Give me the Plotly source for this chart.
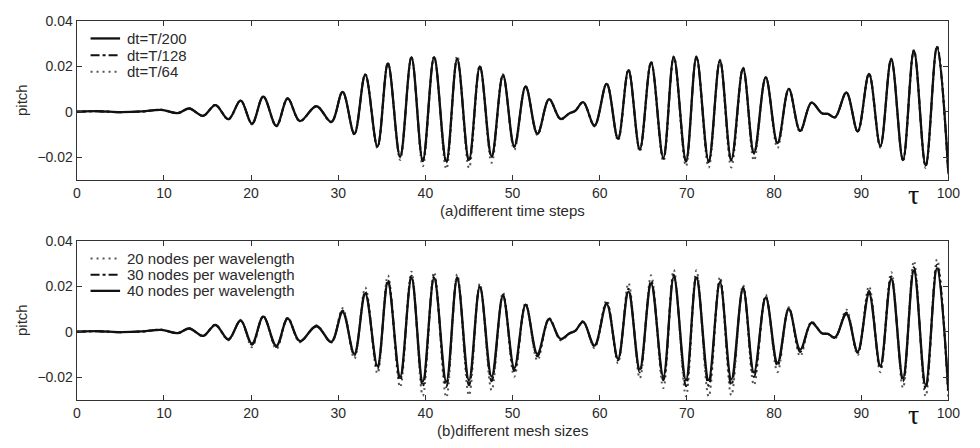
import plotly.graph_objects as go

# time instants of the extrema of pitch (tau)
tau = [0, 2.5, 5, 7.5, 9.7, 11.6, 12.9, 14.5, 15.9, 17.4, 18.8, 20.1, 21.4, 22.9,
       24.2, 25.6, 27.5, 29.2, 30.5, 31.85, 33.1, 34.5, 35.7, 37.1,
       38.4, 39.7, 41.0, 42.4, 43.65, 45.0, 46.25, 47.6, 48.9, 50.2,
       51.5, 52.85, 54.2, 55.5, 56.5, 57.2, 58.1, 59.4, 60.8, 62.1,
       63.3, 64.6, 65.9, 67.3, 68.5, 69.9, 71.1, 72.5, 73.8, 75.1,
       76.45, 77.7, 79.05, 80.4, 81.7, 83.0, 84.3, 85.5, 86.2, 87.0,
       88.3, 89.6, 90.9, 92.2, 93.45, 94.8, 96.05, 97.4, 98.7, 100]

# (a) different time steps
pitch_dt200 = [0, 0.0002, -0.0002, 0.0001, 0.0008, -0.0006, 0.0014, -0.0018, 0.0029, -0.0033, 0.0049, -0.0053, 0.0066, -0.0062,
               0.0058, -0.0041, 0.0024, -0.0045, 0.0087, -0.0097, 0.0163, -0.0153, 0.0212, -0.0197,
               0.0238, -0.0213, 0.0239, -0.0218, 0.0231, -0.0212, 0.0199, -0.0196, 0.0161, -0.0152,
               0.0111, -0.0097, 0.0055, -0.0032, -0.0008, 0.0004, 0.0042, -0.0061, 0.0122, -0.0118,
               0.0183, -0.0165, 0.0216, -0.0203, 0.024, -0.0215, 0.024, -0.0217, 0.0224, -0.021,
               0.0191, -0.0181, 0.0151, -0.0138, 0.01, -0.0084, 0.004, -0.0007, -0.001, -0.0025,
               0.0084, -0.0086, 0.0166, -0.0151, 0.0231, -0.0211, 0.0268, -0.0236, 0.0285, -0.0265]
pitch_dt128 = [0, 0.0002, -0.0002, 0.0001, 0.0008, -0.0006, 0.0014, -0.0018, 0.0029, -0.0033, 0.0049, -0.0053, 0.0066, -0.0062,
               0.0058, -0.0041, 0.0024, -0.0045, 0.0087, -0.0098, 0.0164, -0.0155, 0.0213, -0.0200,
               0.0239, -0.0218, 0.024, -0.0224, 0.0233, -0.0218, 0.02, -0.02, 0.0162, -0.0155,
               0.0111, -0.0098, 0.0055, -0.0032, -0.0008, 0.0004, 0.0042, -0.0062, 0.0123, -0.012,
               0.0184, -0.0168, 0.0217, -0.0207, 0.0241, -0.022, 0.0241, -0.0222, 0.0225, -0.0215,
               0.0192, -0.0185, 0.0152, -0.014, 0.01, -0.0085, 0.004, -0.0007, -0.001, -0.0025,
               0.0084, -0.0087, 0.0167, -0.0153, 0.0232, -0.0214, 0.0269, -0.024, 0.0286, -0.027]
pitch_dt64 = [0, 0.0002, -0.0002, 0.0001, 0.0008, -0.0006, 0.0014, -0.0019, 0.003, -0.0035, 0.005, -0.0056, 0.0067, -0.0066,
              0.0059, -0.0043, 0.0025, -0.0047, 0.0088, -0.0102, 0.0166, -0.016, 0.0216, -0.0212,
              0.0243, -0.024, 0.0245, -0.0252, 0.0246, -0.0248, 0.0204, -0.0225, 0.0165, -0.0168,
              0.0113, -0.0103, 0.0056, -0.0034, -0.0008, 0.0004, 0.0043, -0.0065, 0.0125, -0.0128,
              0.0187, -0.0175, 0.0220, -0.0218, 0.0244, -0.024, 0.0244, -0.0246, 0.0228, -0.0245,
              0.0194, -0.0215, 0.0154, -0.016, 0.0101, -0.009, 0.004, -0.0007, -0.001, -0.0026,
              0.0085, -0.009, 0.0168, -0.0158, 0.0234, -0.022, 0.0272, -0.0248, 0.029, -0.0285]

# (b) different mesh sizes
pitch_40nodes = [0, 0.0002, -0.0002, 0.0001, 0.0008, -0.0006, 0.0014, -0.0018, 0.0029, -0.0033, 0.0049, -0.0053, 0.0066, -0.0062,
                 0.0058, -0.0041, 0.0024, -0.0045, 0.0086, -0.0098, 0.0167, -0.0151, 0.0217, -0.0198,
                 0.0236, -0.022, 0.0237, -0.022, 0.0233, -0.0214, 0.0197, -0.0198, 0.0157, -0.016,
                 0.0118, -0.0098, 0.0055, -0.0032, -0.0008, 0.0004, 0.0043, -0.0061, 0.0121, -0.0119,
                 0.0176, -0.0165, 0.0211, -0.0198, 0.024, -0.0213, 0.0237, -0.0213, 0.0218, -0.021,
                 0.019, -0.018, 0.0151, -0.0137, 0.01, -0.0079, 0.0039, -0.0007, -0.001, -0.0025,
                 0.0077, -0.0088, 0.0168, -0.0151, 0.0233, -0.0205, 0.0269, -0.0234, 0.028, -0.026]
pitch_30nodes = [0, 0.0002, -0.0002, 0.0001, 0.0008, -0.0006, 0.0014, -0.0019, 0.003, -0.0035, 0.005, -0.0058, 0.0067, -0.0067,
                 0.0059, -0.0043, 0.0025, -0.0046, 0.0093, -0.0105, 0.0176, -0.0163, 0.0227, -0.0213,
                 0.0246, -0.0240, 0.0246, -0.0243, 0.024, -0.0236, 0.0202, -0.0218, 0.0162, -0.0173,
                 0.012, -0.0108, 0.0057, -0.0034, -0.0008, 0.0004, 0.0044, -0.0065, 0.0127, -0.0126,
                 0.0189, -0.0179, 0.0224, -0.0214, 0.0251, -0.024, 0.0248, -0.0238, 0.0226, -0.0235,
                 0.0195, -0.0199, 0.0155, -0.0151, 0.0103, -0.0089, 0.0041, -0.0007, -0.001, -0.0027,
                 0.0084, -0.0093, 0.0179, -0.0160, 0.0243, -0.0219, 0.0284, -0.0251, 0.0295, -0.0272]
pitch_20nodes = [0, 0.0002, -0.0002, 0.0001, 0.0009, -0.0007, 0.0015, -0.002, 0.0031, -0.0038, 0.0052, -0.0068, 0.0069, -0.0076,
                 0.0062, -0.0046, 0.0028, -0.0048, 0.0103, -0.0119, 0.0194, -0.0184, 0.0247, -0.0244,
                 0.0264, -0.0282, 0.0262, -0.0289, 0.0252, -0.028, 0.0212, -0.0258, 0.0172, -0.0198,
                 0.0128, -0.0126, 0.006, -0.0038, -0.0009, 0.0004, 0.0047, -0.0072, 0.0138, -0.0138,
                 0.0214, -0.0205, 0.0248, -0.0248, 0.0272, -0.0284, 0.027, -0.0285, 0.0241, -0.028,
                 0.0205, -0.0235, 0.0162, -0.0178, 0.0108, -0.0108, 0.0043, -0.0008, -0.0011, -0.003,
                 0.0097, -0.0103, 0.02, -0.0178, 0.0262, -0.0247, 0.0311, -0.0284, 0.0318, -0.0295]

for arr in (pitch_dt200, pitch_dt128, pitch_dt64, pitch_40nodes, pitch_30nodes, pitch_20nodes):
    assert len(arr) == len(tau), len(arr)

x_ticks = [0, 10, 20, 30, 40, 50, 60, 70, 80, 90, 100]
y_ticks = [-0.02, 0, 0.02, 0.04]
y_tick_text = ["\u22120.02", "0", "0.02", "0.04"]
titles = ["(a)different time steps", "(b)different mesh sizes"]
legend_top = ["dt=T/200", "dt=T/128", "dt=T/64"]
legend_bottom = ["20 nodes per wavelength", "30 nodes per wavelength", "40 nodes per wavelength"]

FONT = "Liberation Sans, Arial, Helvetica, sans-serif"
TXT = "#2a2a2a"
W, H = 980, 448

STYLES = {
    "solid": dict(color="#111111", width=2.3),
    "dashdot": dict(color="#111111", width=2.0, dash="dashdot"),
    "dot": dict(color="#555555", width=2.0, dash="2px,4px"),
}

fig = go.Figure()

def add(x, y, name, style, xa, ya):
    fig.add_trace(go.Scatter(x=x, y=y, name=name, mode="lines",
                             line=dict(shape="spline", **STYLES[style]),
                             xaxis=xa, yaxis=ya, showlegend=False))

# top panel: dotted drawn first, solid on top
add(tau, pitch_dt64, legend_top[2], "dot", "x", "y")
add(tau, pitch_dt128, legend_top[1], "dashdot", "x", "y")
add(tau, pitch_dt200, legend_top[0], "solid", "x", "y")
# bottom panel
add(tau, pitch_20nodes, legend_bottom[0], "dot", "x2", "y2")
add(tau, pitch_30nodes, legend_bottom[1], "dashdot", "x2", "y2")
add(tau, pitch_40nodes, legend_bottom[2], "solid", "x2", "y2")

xd = [74 / W, 960 / W]
yd_top = [1 - 175 / H, 1 - 13 / H]
yd_bot = [1 - 399 / H, 1 - 237 / H]

axis_common = dict(showline=True, linecolor="#333333", linewidth=1.3, mirror="ticks",
                   ticks="inside", ticklen=5, tickwidth=1, tickcolor="#333333",
                   showgrid=False, zeroline=False,
                   tickfont=dict(family=FONT, size=14, color=TXT))

fig.update_layout(
    width=W, height=H, margin=dict(l=0, r=0, t=0, b=0),
    paper_bgcolor="white", plot_bgcolor="white",
    font=dict(family=FONT, size=14, color=TXT),
    xaxis=dict(domain=xd, anchor="y", range=[0, 100], tickvals=x_ticks, **axis_common),
    yaxis=dict(domain=yd_top, anchor="x", range=[-0.03, 0.04], tickvals=y_ticks,
               ticktext=y_tick_text, **axis_common),
    xaxis2=dict(domain=xd, anchor="y2", range=[0, 100], tickvals=x_ticks, **axis_common),
    yaxis2=dict(domain=yd_bot, anchor="x2", range=[-0.03, 0.04], tickvals=y_ticks,
                ticktext=y_tick_text, **axis_common),
    showlegend=False,
)

ann = []
shapes = []
panels = [(yd_top, titles[0], legend_top, ["solid", "dashdot", "dot"], [31, 48, 65]),
          (yd_bot, titles[1], legend_bottom, ["dot", "dashdot", "solid"], [255, 271.5, 288])]
for yd, title, labels, styles, rows in panels:
    bottom_px = (1 - yd[0]) * H
    ann.append(dict(text=title, xref="paper", yref="paper", x=(xd[0] + xd[1]) / 2,
                    y=1 - (bottom_px + 31) / H, xanchor="center", yanchor="middle",
                    showarrow=False, font=dict(family=FONT, size=15, color=TXT)))
    ann.append(dict(text="pitch", xref="paper", yref="paper", x=18 / W,
                    y=(yd[0] + yd[1]) / 2, textangle=-90, xanchor="center", yanchor="middle",
                    showarrow=False, font=dict(family=FONT, size=15, color=TXT)))
    ann.append(dict(text="\u03c4", xref="paper", yref="paper", x=925 / W,
                    y=1 - (bottom_px + 15) / H, xanchor="center", yanchor="middle",
                    showarrow=False, font=dict(family="Liberation Serif, DejaVu Serif, serif",
                                               size=28, color="#111111")))
    # legend (sample line + label)
    for lab, st, ry in zip(labels, styles, rows):
        yy = 1 - ry / H
        shapes.append(dict(type="line", xref="paper", yref="paper",
                           x0=88 / W, x1=118 / W, y0=yy, y1=yy, line=STYLES[st]))
        ann.append(dict(text=lab, xref="paper", yref="paper", x=123 / W, y=yy,
                        xanchor="left", yanchor="middle", showarrow=False,
                        font=dict(family=FONT, size=15, color=TXT)))
fig.update_layout(annotations=ann, shapes=shapes)

fig.write_html("out.html")
